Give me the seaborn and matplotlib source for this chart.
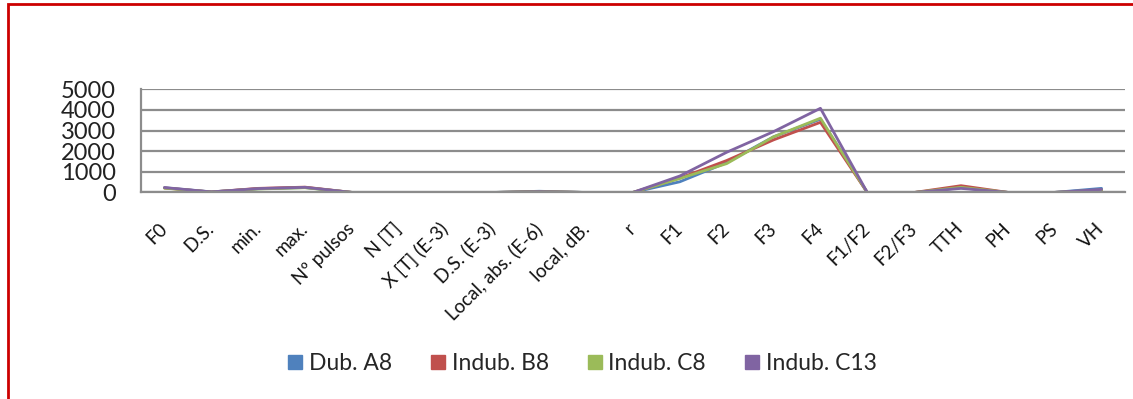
"""
Line chart of voice parameters for four speakers (Dub. A8 / Indub. B8, C8, C13).
"""

import numpy as np
import pandas as pd
import seaborn as sns
import matplotlib.pyplot as plt
from matplotlib.lines import Line2D
from matplotlib.patches import Rectangle


CATEGORIES = ["F0", "D.S.", "min.", "max.", "Nº pulsos", "N [T]", "X [T] (E-3)",
              "D.S. (E-3)", "Local, abs. (E-6)", "local, dB.", "r", "F1", "F2",
              "F3", "F4", "F1/F2", "F2/F3", "TTH", "PH", "PS", "VH"]

DUB_A8 = [230, 30, 180, 240, 5, 5, 5, 1, 60, 1, 5, 520, 1450, 2700, 3550, 0.4, 0.6, 230, 5, 5, 200]
INDUB_B8 = [220, 25, 200, 260, 5, 5, 5, 1, 40, 1, 5, 700, 1550, 2550, 3400, 0.4, 0.6, 330, 5, 5, 80]
INDUB_C8 = [210, 25, 170, 230, 5, 5, 5, 1, 50, 1, 5, 680, 1400, 2700, 3600, 0.4, 0.6, 250, 5, 5, 120]
INDUB_C13 = [240, 30, 190, 250, 5, 5, 5, 1, 40, 1, 5, 800, 1950, 2950, 4080, 0.4, 0.6, 200, 5, 5, 150]

SERIES = ["Dub. A8", "Indub. B8", "Indub. C8", "Indub. C13"]
COLORS = ["#4F81BD", "#C0504D", "#9BBB59", "#8064A2"]
Y_TICKS = [0, 1000, 2000, 3000, 4000, 5000]


# build a long table for seaborn
frames = []
for name, vals in zip(SERIES, [DUB_A8, INDUB_B8, INDUB_C8, INDUB_C13]):
    frames.append(pd.DataFrame({"param": CATEGORIES, "value": vals, "serie": name}))
df = pd.concat(frames, ignore_index=True)

sns.set_style("white")
plt.rcParams["font.family"] = ["Lato", "DejaVu Sans"]

fig = plt.figure(figsize=(11.33, 3.99), dpi=100)
ax = fig.add_axes([141 / 1133, 206.5 / 399, (1125 - 141) / 1133, 103.2 / 399])

sns.lineplot(data=df, x="param", y="value", hue="serie", palette=COLORS,
             sort=False, linewidth=2.0, legend=False, ax=ax)

ax.set_xlim(-0.5, len(CATEGORIES) - 0.5)
ax.set_ylim(0, 5000)
ax.set_yticks(Y_TICKS)
ax.set_yticklabels([str(t) for t in Y_TICKS], fontsize=17, color="#222222")
ax.set_xticks(range(len(CATEGORIES)))
ax.set_xticklabels(CATEGORIES, rotation=45, ha="right", va="center",
                   rotation_mode="anchor", fontsize=13.5, color="#111111")
ax.tick_params(axis="x", length=0, pad=24)
ax.tick_params(axis="y", length=0, pad=18)
ax.set_xlabel("")
ax.set_ylabel("")

# gridlines like the spreadsheet chart
ax.yaxis.grid(True, color="#8c8c8c", linewidth=1.6)
ax.xaxis.grid(False)
ax.set_axisbelow(True)
for side in ["top", "right"]:
    ax.spines[side].set_visible(False)
for side in ["left", "bottom"]:
    ax.spines[side].set_color("#8c8c8c")
    ax.spines[side].set_linewidth(1.6)

# legend with square markers
handles = [Line2D([0], [0], marker="s", linestyle="none", markersize=10,
                  markerfacecolor=c, markeredgecolor=c) for c in COLORS]
fig.legend(handles, SERIES, loc="center", bbox_to_anchor=(0.512, 0.09), ncol=4,
           frameon=False, fontsize=16.5, handletextpad=0.1, columnspacing=1.5,
           handlelength=1.0)

# red outer border (cut off on the right and bottom)
fig.patches.append(Rectangle((8 / 1133, -0.05), 1.2, (399 - 4) / 399 + 0.05,
                             transform=fig.transFigure, fill=False,
                             edgecolor="#CC0000", linewidth=2))

fig.savefig("out.png", dpi=100)
